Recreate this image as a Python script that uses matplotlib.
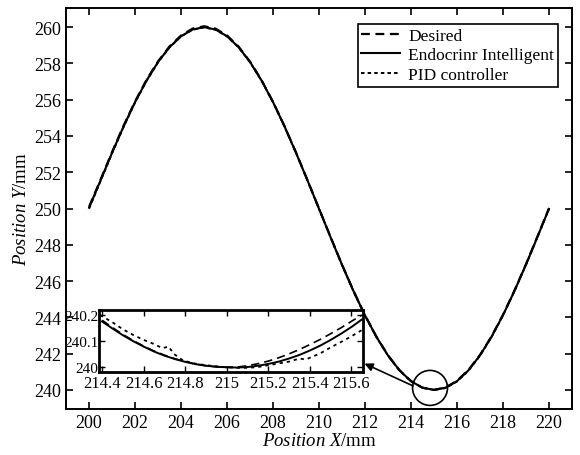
import matplotlib
matplotlib.use('Agg')
import matplotlib.pyplot as plt
import matplotlib.patches as patches

plt.rcParams['font.family'] = 'Liberation Serif'
plt.rcParams['mathtext.fontset'] = 'custom'
plt.rcParams['mathtext.rm'] = 'Liberation Serif'
plt.rcParams['mathtext.it'] = 'Liberation Serif:italic'

# main trajectory, every 0.5 mm
pos_x = [200.0, 200.5, 201.0, 201.5, 202.0, 202.5, 203.0, 203.5, 204.0, 204.5,
         205.0, 205.5, 206.0, 206.5, 207.0, 207.5, 208.0, 208.5, 209.0, 209.5,
         210.0, 210.5, 211.0, 211.5, 212.0, 212.5, 213.0, 213.5, 214.0, 214.5,
         215.0, 215.5, 216.0, 216.5, 217.0, 217.5, 218.0, 218.5, 219.0, 219.5, 220.0]
desired_y = [250.10, 251.60, 253.12, 254.57, 255.91, 257.10, 258.12, 258.94, 259.54, 259.92,
             260.05, 259.92, 259.54, 258.93, 258.10, 257.08, 255.88, 254.54, 253.09, 251.56,
             250.00, 248.44, 246.91, 245.46, 244.12, 242.93, 241.91, 241.09, 240.49, 240.12,
             240.00, 240.13, 240.50, 241.10, 241.92, 242.94, 244.13, 245.47, 246.92, 248.45, 250.00]
endo_y = [250.05, 251.56, 253.08, 254.53, 255.87, 257.06, 258.08, 258.90, 259.50, 259.87,
          260.00, 259.87, 259.50, 258.90, 258.08, 257.06, 255.87, 254.53, 253.08, 251.55,
          249.99, 248.43, 246.90, 245.45, 244.11, 242.92, 241.90, 241.08, 240.48, 240.12,
          240.00, 240.12, 240.48, 241.08, 241.90, 242.92, 244.11, 245.45, 246.90, 248.43, 249.98]
pid_y = [250.00, 251.52, 253.05, 254.50, 255.85, 257.04, 258.06, 258.89, 259.49, 259.86,
         259.99, 259.86, 259.49, 258.89, 258.07, 257.05, 255.86, 254.52, 253.07, 251.54,
         249.98, 248.42, 246.89, 245.44, 244.10, 242.91, 241.89, 241.07, 240.47, 240.13,
         240.00, 240.10, 240.46, 241.06, 241.88, 242.90, 244.10, 245.44, 246.89, 248.42, 249.97]

# zoomed region around the minimum
zoom_x = [214.40, 214.45, 214.50, 214.55, 214.60, 214.65, 214.70, 214.75, 214.80, 214.85,
          214.90, 214.95, 215.00, 215.05, 215.10, 215.15, 215.20, 215.25, 215.30, 215.35,
          215.40, 215.45, 215.50, 215.55, 215.60, 215.65]
zoom_desired = [240.180, 240.152, 240.125, 240.101, 240.080, 240.061, 240.045, 240.031, 240.020, 240.011,
                240.004, 240.000, 239.998, 239.999, 240.004, 240.012, 240.022, 240.035, 240.050, 240.067,
                240.086, 240.106, 240.128, 240.151, 240.176, 240.200]
zoom_endo = [240.175, 240.148, 240.122, 240.099, 240.078, 240.059, 240.043, 240.030, 240.019, 240.010,
             240.004, 240.000, 239.998, 239.997, 239.999, 240.004, 240.011, 240.020, 240.032, 240.046,
             240.063, 240.082, 240.104, 240.128, 240.154, 240.183]
zoom_pid_x = [214.39, 214.45, 214.50, 214.55, 214.60, 214.65, 214.69, 214.72, 214.745, 214.79,
              214.85, 214.90, 214.95, 215.00, 215.05, 215.10, 215.15, 215.20, 215.25, 215.30,
              215.35, 215.38, 215.45, 215.50, 215.55, 215.60, 215.65]
zoom_pid = [240.200, 240.172, 240.145, 240.123, 240.104, 240.088, 240.072, 240.078, 240.050, 240.024,
            240.012, 240.006, 240.002, 239.998, 239.996, 239.996, 239.999, 240.006, 240.013, 240.020,
            240.032, 240.028, 240.052, 240.075, 240.096, 240.118, 240.142]

fig = plt.figure(figsize=(5.8, 4.56), dpi=100)
ax = fig.add_axes([0.114, 0.101, 0.872, 0.879])

ax.plot(pos_x, desired_y, color='black', lw=1.6, linestyle=(0, (4, 2.5)), label='Desired')
ax.plot(pos_x, endo_y, color='black', lw=1.5, linestyle='-', label='Endocrinr Intelligent')
ax.plot(pos_x, pid_y, color='black', lw=1.4, linestyle=(0, (1.8, 1.6)), label='PID controller')

ax.set_xlim(199, 221)
ax.set_ylim(238.95, 261.05)
ax.set_xticks(range(200, 221, 2))
ax.set_yticks(range(240, 261, 2))
ax.tick_params(direction='in', top=True, right=True, labelsize=13, length=5, width=1.2)
for s in ax.spines.values():
    s.set_linewidth(1.4)
ax.set_xlabel(r'$\mathit{Position\ X}$/mm', fontsize=13.5, labelpad=1)
ax.set_ylabel(r'$\mathit{Position\ Y}$/mm', fontsize=13.5, labelpad=3)

leg = ax.legend(loc='upper right', bbox_to_anchor=(0.972, 0.960), borderaxespad=0,
                fontsize=12.5, frameon=True, fancybox=False, edgecolor='black', framealpha=1,
                handlelength=2.2, handletextpad=0.5, borderpad=0.2, labelspacing=0.2)
leg.get_frame().set_linewidth(1.2)

# circle around the minimum and arrow to the inset
circ = patches.Ellipse((214.83, 240.11), 1.52, 1.93, fill=False, edgecolor='black', lw=1.2)
ax.add_patch(circ)
ax.annotate('', xy=(211.98, 241.45), xytext=(214.09, 240.22),
            arrowprops=dict(arrowstyle='-|>', color='black', lw=1.2, mutation_scale=12,
                            shrinkA=0, shrinkB=0))

# inset
ins = ax.inset_axes([200.43, 240.99, 11.48, 3.42], transform=ax.transData)
ins.plot(zoom_x, zoom_desired, color='black', lw=1.2, linestyle=(0, (5, 3)))
ins.plot(zoom_x, zoom_endo, color='black', lw=1.4, linestyle='-')
ins.plot(zoom_pid_x, zoom_pid, color='black', lw=1.3, linestyle=(0, (1.8, 2.2)))
ins.set_xlim(214.385, 215.655)
ins.set_ylim(239.98, 240.22)
ins.set_xticks([214.4, 214.6, 214.8, 215.0, 215.2, 215.4, 215.6])
ins.set_xticklabels(['214.4', '214.6', '214.8', '215', '215.2', '215.4', '215.6'])
ins.set_yticks([240.0, 240.1, 240.2])
ins.set_yticklabels(['240', '240.1', '240.2'])
ins.tick_params(direction='in', top=True, right=True, labelsize=12, length=4, width=1.0)
ins.tick_params(axis='x', pad=2)
ins.tick_params(axis='y', pad=0.5, labelsize=11)
for s in ins.spines.values():
    s.set_linewidth(2)

fig.savefig('out.png', dpi=100)
